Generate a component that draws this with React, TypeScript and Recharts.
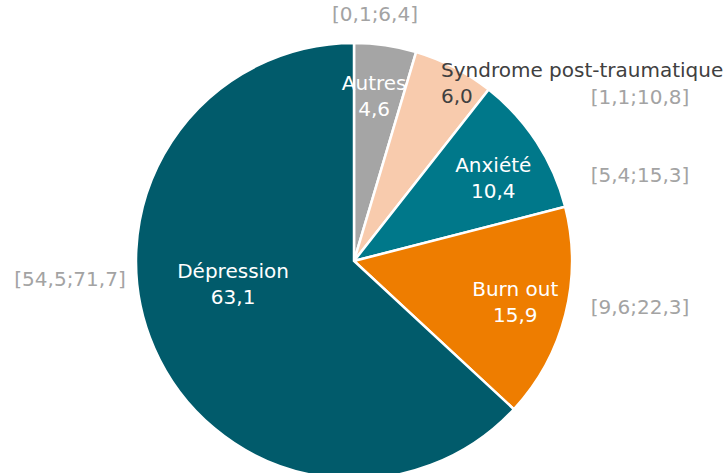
import { PieChart, Pie, Cell } from "recharts";

// categories, clockwise from the top
const categories = ["Autres", "Syndrome post-traumatique", "Anxiété", "Burn out", "Dépression"];
const shares = [4.6, 6.0, 10.4, 15.9, 63.1];
const intervals = ["[0,1;6,4]", "[1,1;10,8]", "[5,4;15,3]", "[9,6;22,3]", "[54,5;71,7]"];

const colors = ["#a5a5a5", "#f8cbad", "#00788a", "#ee7d00", "#015b6b"];
const labelColors = ["#ffffff", "#404040", "#ffffff", "#ffffff", "#ffffff"];

const data = categories.map((name, i) => ({
  name,
  value: shares[i],
  ci: intervals[i],
}));

const FONT = "'DejaVu Sans', Verdana, sans-serif";
const fmt = (v: number) => v.toFixed(1).replace(".", ",");

// label placement per slice: inner radius factor + nudge, CI position relative to centre
const inner = [
  { f: 0.77, dx: -4, dy: 0, anchor: "middle" },
  { f: 0.9, dx: 0, dy: -10, anchor: "start" },
  { f: 0.73, dx: 6, dy: 3, anchor: "middle" },
  { f: 0.73, dx: 7, dy: 1, anchor: "middle" },
  { f: 0.6, dx: -1, dy: -30, anchor: "middle" },
];
const outer = [
  { dx: 21, dy: -247 },
  { dx: 286, dy: -164 },
  { dx: 286, dy: -86 },
  { dx: 286, dy: 46 },
  { dx: -284, dy: 18 },
];

const RAD = Math.PI / 180;

function renderLabel(props: any) {
  const { cx, cy, midAngle, outerRadius, index, value, name } = props;
  const l = inner[index];
  let x = cx + outerRadius * l.f * Math.cos(-midAngle * RAD) + l.dx;
  let y = cy + outerRadius * l.f * Math.sin(-midAngle * RAD) + l.dy;
  if (index === 1) {
    x = cx + 87;
    y = cy - 179;
  }
  const o = outer[index];
  return (
    <g key={`lbl-${index}`} style={{ fontFamily: FONT, fontSize: 20 }}>
      <text x={x} y={y - 5} textAnchor={l.anchor} fill={labelColors[index]}>
        {name}
      </text>
      <text x={x} y={y + 21} textAnchor={l.anchor} fill={labelColors[index]}>
        {fmt(value)}
      </text>
      <text x={cx + o.dx} y={cy + o.dy + 7} textAnchor="middle" fill="#a3a3a3">
        {data[index].ci}
      </text>
    </g>
  );
}

export default function App() {
  return (
    <div style={{ position: "absolute", left: 0, top: 0, width: 726, height: 473, background: "#fff" }}>
      <PieChart width={726} height={473}>
        <Pie
          data={data}
          dataKey="value"
          nameKey="name"
          cx={349}
          cy={256}
          outerRadius={218}
          startAngle={90}
          endAngle={-270}
          stroke="#ffffff"
          strokeWidth={2.5}
          label={renderLabel}
          labelLine={false}
          isAnimationActive={false}
        >
          {data.map((d, i) => (
            <Cell key={d.name} fill={colors[i]} />
          ))}
        </Pie>
      </PieChart>
    </div>
  );
}
